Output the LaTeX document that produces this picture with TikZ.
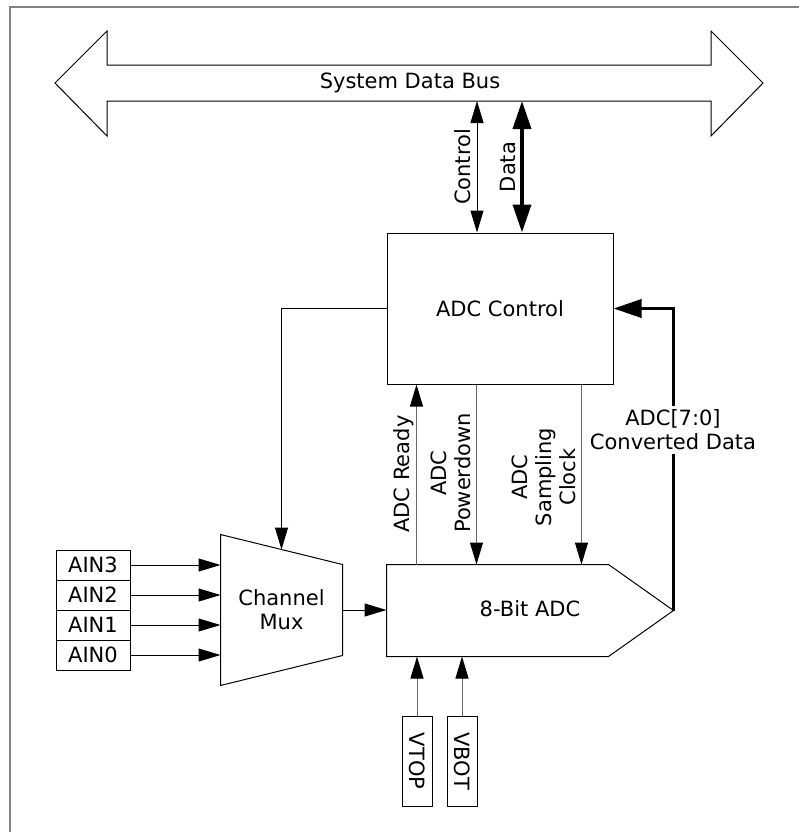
\documentclass[tikz,border=0pt]{standalone}
\usepackage{fontspec}
\setmainfont{DejaVu Sans}
\usetikzlibrary{arrows.meta}

\begin{document}
\begin{tikzpicture}[x=0.5pt, y=-0.5pt, line width=0.5pt,
	every node/.style={font=\fontsize{10.5}{12}\selectfont, inner sep=0pt, align=center},
	>={Triangle[length=11pt, width=6.5pt]},
	blk/.style={draw},
	pin/.style={draw, minimum width=37pt, minimum height=15pt},
	ref/.style={draw, rotate=-90, minimum width=45pt, minimum height=15pt},
	sig/.style={black!60, >={Triangle[length=11pt, width=6.5pt, color=black]}},
	wide/.style={line width=1.8pt, >={Triangle[length=14pt, width=9pt]}}]
	\useasboundingbox (0,0) rectangle (799,832);
	\draw[black!50, line width=1pt] (10,832) -- (10,7) -- (799,7);
	% system bus
	\draw (55,83) -- (107,31) -- (107,65) -- (711,65) -- (711,31) -- (763,83) -- (711,136) -- (711,101) -- (107,101) -- (107,136) -- cycle;
	\node (bus) at (410,83) {System Data Bus};
	\coordinate (busC) at (477,101);
	\coordinate (busD) at (522,101);
	% blocks
	\node[blk, minimum width=113pt, minimum height=75.5pt] (ctl) at (500,308.5) {ADC Control};
	\node[minimum width=110.5pt, minimum height=45.5pt] (adc) at (497.5,610.5) {};
	\coordinate (adctip) at ([xshift=32.5pt]adc.east);
	\draw (adc.north west) -- (adc.north east) -- (adctip) -- (adc.south east) -- (adc.south west) -- cycle;
	\node (adclbl) at (530,609) {8-Bit ADC};
	\node[minimum width=60.5pt, minimum height=75pt] (mux) at (281.5,610) {Channel\\Mux};
	\draw (mux.north west) -- ([yshift=-15pt]mux.north east) -- ([yshift=15pt]mux.south east) -- (mux.south west) -- cycle;
	\path (mux.north west) -- ([yshift=-15pt]mux.north east) coordinate[pos=0.5] (muxtop);
	% inputs
	\foreach \n/\y in {3/565,2/595,1/625,0/655}
		\node[pin] (ain\n) at (93,\y) {AIN\n};
	\foreach \n in {0,...,3}
		\draw[->] (ain\n.east) -- (ain\n.east -| mux.west);
	\node[ref] (vtop) at (417,761) {VTOP};
	\node[ref] (vbot) at (462,761) {VBOT};
	\draw[sig,->] (vtop.west) -- (vtop.west |- adc.south);
	\draw[sig,->] (vbot.west) -- (vbot.west |- adc.south);
	% connections
	\draw[->] (mux.east) -- (mux.east -| adc.west);
	\draw[->] (ctl.west) -| (muxtop);
	\draw[<->] (busC |- ctl.north) -- (busC);
	\draw[wide,<->] (busD |- ctl.north) -- (busD);
	\node[rotate=90] (lctl) at (463,167) {Control};
	\node[rotate=90] (ldat) at (508,167) {Data};
	\draw[sig,->] ([xshift=15pt]adc.north west) -- ([xshift=15pt]ctl.south west);
	\draw[sig,->] ([xshift=45pt]ctl.south west) -- ([xshift=45pt]adc.north west);
	\draw[sig,->] ([xshift=97.5pt]ctl.south west) -- ([xshift=97.5pt]adc.north west);
	\node[rotate=90] (lrdy) at (404,474) {ADC Ready};
	\node[rotate=90] (lpwr) at (451,473) {ADC\\Powerdown};
	\node[rotate=90] (lclk) at (544,477) {ADC\\Sampling\\Clock};
	\draw[wide,->] (adctip) |- (ctl.east);
	\node[fill=white, inner sep=2pt] (lcnv) at (673,430) {ADC[7:0]\\Converted Data};
\end{tikzpicture}
\end{document}
